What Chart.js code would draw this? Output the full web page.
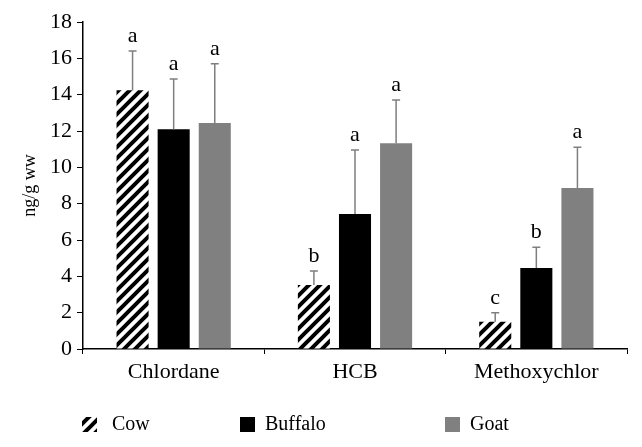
<!DOCTYPE html>
<html>
<head>
<meta charset="utf-8">
<script src="https://cdn.jsdelivr.net/npm/chart.js@4"></script>
<style>
    html, body { margin: 0; padding: 0; background: #fff; }
    #wrap { position: relative; width: 642px; height: 447px; }
</style>
</head>
<body>
<div id="wrap"><canvas id="chart" width="642" height="447"></canvas></div>
<script>
const categories = ['Chlordane', 'HCB', 'Methoxychlor'];
const seriesNames = ['Cow', 'Buffalo', 'Goat'];
const cowValues = [14.25, 3.52, 1.5];
const buffaloValues = [12.1, 7.43, 4.46];
const goatValues = [12.44, 11.33, 8.86];
const cowErrTop = [16.4, 4.3, 2.0];
const buffaloErrTop = [14.86, 10.95, 5.6];
const goatErrTop = [15.7, 13.7, 11.1];
const cowLetters = ['a', 'b', 'c'];
const buffaloLetters = ['a', 'a', 'b'];
const goatLetters = ['a', 'a', 'a'];

const serif = "'Liberation Serif', 'DejaVu Serif', serif";

function makeHatch() {
    const size = 11;
    const c = document.createElement('canvas');
    c.width = size;
    c.height = size;
    const g = c.getContext('2d');
    g.fillStyle = '#fff';
    g.fillRect(0, 0, size, size);
    g.strokeStyle = '#000';
    g.lineWidth = 4;
    g.beginPath();
    g.moveTo(-size / 2, size / 2); g.lineTo(size / 2, -size / 2);
    g.moveTo(0, size); g.lineTo(size, 0);
    g.moveTo(size / 2, size * 1.5); g.lineTo(size * 1.5, size / 2);
    g.stroke();
    return c;
}

const ctx = document.getElementById('chart').getContext('2d');
const hatch = ctx.createPattern(makeHatch(), 'repeat');

const errTops = [cowErrTop, buffaloErrTop, goatErrTop];
const letters = [cowLetters, buffaloLetters, goatLetters];

const errorBarPlugin = {
    id: 'errorBars',
    afterDatasetsDraw(chart) {
        const c = chart.ctx;
        const y = chart.scales.y;
        chart.data.datasets.forEach((ds, i) => {
            const meta = chart.getDatasetMeta(i);
            meta.data.forEach((bar, j) => {
                const top = y.getPixelForValue(errTops[i][j]);
                c.save();
                c.strokeStyle = '#7f7f7f';
                c.lineWidth = 1.5;
                c.beginPath();
                c.moveTo(bar.x, bar.y);
                c.lineTo(bar.x, top);
                c.moveTo(bar.x - 4, top);
                c.lineTo(bar.x + 4, top);
                c.stroke();
                c.fillStyle = '#000';
                c.font = '22px ' + serif;
                c.textAlign = 'center';
                c.textBaseline = 'alphabetic';
                c.fillText(letters[i][j], bar.x, top - 9);
                c.restore();
            });
        });
    }
};

const legendPlugin = {
    id: 'fixedLegend',
    afterDraw(chart) {
        const c = chart.ctx;
        const items = [
            { x: 82, fill: hatch, label: seriesNames[0] },
            { x: 240, fill: '#000', label: seriesNames[1] },
            { x: 445, fill: '#808080', label: seriesNames[2] }
        ];
        c.save();
        c.font = '20px ' + serif;
        c.textBaseline = 'middle';
        items.forEach(it => {
            c.fillStyle = it.fill;
            c.fillRect(it.x, 417, 15, 15);
            c.fillStyle = '#000';
            c.fillText(it.label, it.x + (it.label === 'Cow' ? 30 : 25), 425);
        });
        c.restore();
    }
};

new Chart(ctx, {
    type: 'bar',
    data: {
        labels: categories,
        datasets: [
            { label: seriesNames[0], data: cowValues, backgroundColor: hatch },
            { label: seriesNames[1], data: buffaloValues, backgroundColor: '#000' },
            { label: seriesNames[2], data: goatValues, backgroundColor: '#808080' }
        ]
    },
    options: {
        responsive: false,
        animation: false,
        categoryPercentage: 0.68,
        barPercentage: 0.78,
        layout: { padding: { top: 22, right: 15, left: 19, bottom: 0 } },
        plugins: {
            legend: { display: false },
            tooltip: { enabled: false }
        },
        scales: {
            x: {
                grid: { display: true, drawOnChartArea: false, drawTicks: true, tickLength: 5, color: '#000', offset: true },
                border: { display: true, color: '#000', width: 1.5 },
                ticks: { color: '#000', font: { family: serif, size: 22 }, padding: 5 },
                afterFit: s => { s.height = 98; }
            },
            y: {
                min: 0,
                max: 18,
                ticks: { stepSize: 2, color: '#000', font: { family: serif, size: 22 }, padding: 5 },
                grid: { display: true, drawOnChartArea: false, drawTicks: true, tickLength: 6, color: '#000' },
                border: { display: true, color: '#000', width: 1.5 },
                title: { display: true, text: 'ng/g ww', color: '#000', font: { family: serif, size: 18 }, padding: 0 },
                afterFit: s => { s.width = 64; }
            }
        }
    },
    plugins: [errorBarPlugin, legendPlugin]
});
</script>
</body>
</html>
